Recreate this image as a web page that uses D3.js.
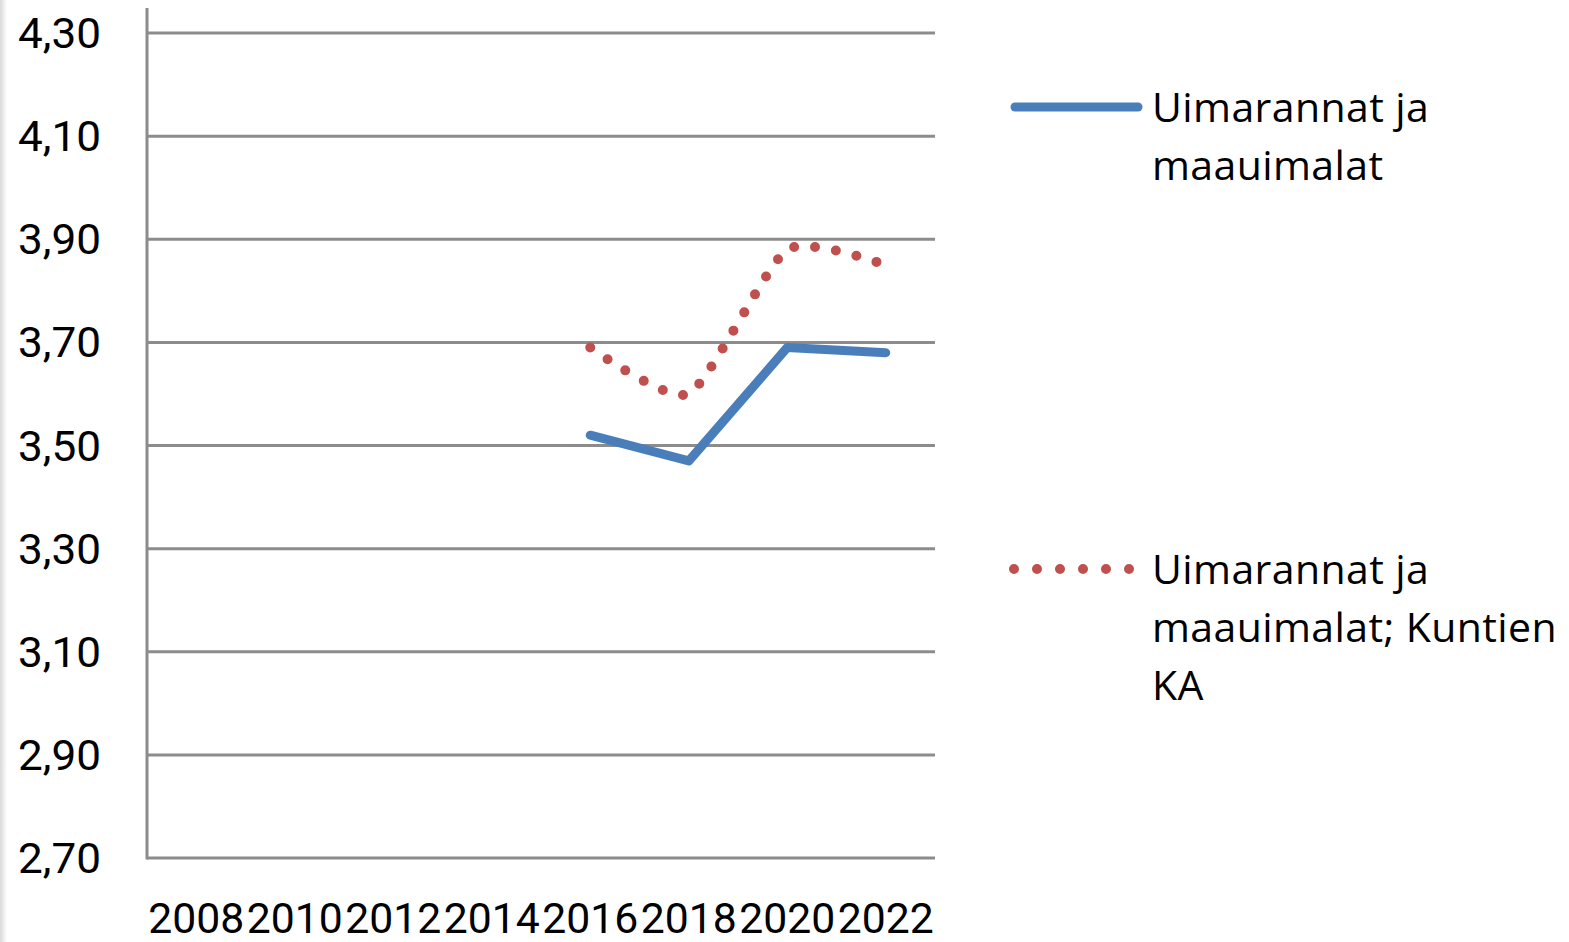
<!DOCTYPE html>
<html>
<head>
<meta charset="utf-8">
<script src="https://cdn.jsdelivr.net/npm/d3@7"></script>
<style>
  body { margin: 0; background: #fff; }
  svg { display: block; }
</style>
</head>
<body>
<div id="viz-container"></div>
<script>
// data
let years = ["2008", "2010", "2012", "2014", "2016", "2018", "2020", "2022"];
let uimarannat = [null, null, null, null, 3.52, 3.47, 3.69, 3.68];
let kuntienKA = [null, null, null, null, 3.69, 3.60, 3.88, 3.85];
let yTicks = [2.7, 2.9, 3.1, 3.3, 3.5, 3.7, 3.9, 4.1, 4.3];
let seriesNames = [["Uimarannat ja", "maauimalat"], ["Uimarannat ja", "maauimalat; Kuntien", "KA"]];

let W = 1569, H = 942;
let plotLeft = 147, plotRight = 935, plotTop = 33, plotBottom = 858;

let viz = d3.select("#viz-container")
  .append("svg")
    .attr("width", W)
    .attr("height", H)
  ;

// faint shadow strip on the left edge
let grad = viz.append("defs").append("linearGradient").attr("id", "edge");
grad.append("stop").attr("offset", "0%").attr("stop-color", "#d9d9d9");
grad.append("stop").attr("offset", "100%").attr("stop-color", "#ffffff");
viz.append("rect").attr("x", 0).attr("y", 0).attr("width", 7).attr("height", H).attr("fill", "url(#edge)");

let x = d3.scaleBand().domain(years).range([plotLeft, plotRight]);
let y = d3.scaleLinear().domain([2.7, 4.3]).range([plotBottom, plotTop]);

function cx(d, i){ return x(years[i]) + x.bandwidth() / 2; }

// gridlines
viz.append("g")
  .selectAll("line").data(yTicks).enter()
  .append("line")
    .attr("x1", plotLeft)
    .attr("x2", plotRight)
    .attr("y1", d => y(d))
    .attr("y2", d => y(d))
    .style("stroke", "#8c8c8c")
    .style("stroke-width", 3)
  ;

// y axis line
viz.append("line")
  .attr("x1", plotLeft).attr("x2", plotLeft)
  .attr("y1", 8).attr("y2", plotBottom + 1.5)
  .style("stroke", "#8c8c8c")
  .style("stroke-width", 3);

// y labels
viz.append("g")
  .selectAll("text").data(yTicks).enter()
  .append("text")
    .attr("x", 101)
    .attr("y", d => y(d))
    .attr("dy", "0.35em")
    .attr("text-anchor", "end")
    .attr("textLength", 83)
    .attr("lengthAdjust", "spacingAndGlyphs")
    .style("font-family", "Liberation Sans Narrow, Roboto, sans-serif")
    .style("font-size", "43px")
    .style("fill", "#000")
    .text(d => d3.format(".2f")(d).replace(".", ","))
  ;

// x labels
viz.append("g")
  .selectAll("text").data(years).enter()
  .append("text")
    .attr("x", (d, i) => cx(d, i))
    .attr("y", 933)
    .attr("text-anchor", "middle")
    .attr("textLength", 96)
    .attr("lengthAdjust", "spacingAndGlyphs")
    .style("font-family", "Liberation Sans Narrow, Roboto, sans-serif")
    .style("font-size", "42px")
    .style("fill", "#000")
    .text(d => d)
  ;

// lines
let blueLine = d3.line()
  .defined(d => d != null)
  .x(cx)
  .y(d => y(d));

let redLine = d3.line()
  .defined(d => d != null)
  .x(cx)
  .y(d => y(d))
  .curve(d3.curveCardinal.tension(0.4));

viz.append("path")
  .attr("d", blueLine(uimarannat))
  .style("fill", "none")
  .style("stroke", "#4a7ebb")
  .style("stroke-width", 9)
  .style("stroke-linecap", "round")
  .style("stroke-linejoin", "round");

viz.append("path")
  .attr("d", redLine(kuntienKA))
  .style("fill", "none")
  .style("stroke", "#c0504d")
  .style("stroke-width", 10)
  .style("stroke-linecap", "round")
  .style("stroke-dasharray", "0 21");

// legend
let legendTop = [107, 569];
let legendColors = ["#4a7ebb", "#c0504d"];

viz.append("line")
  .attr("x1", 1015).attr("x2", 1138)
  .attr("y1", legendTop[0]).attr("y2", legendTop[0])
  .style("stroke", legendColors[0])
  .style("stroke-width", 9)
  .style("stroke-linecap", "round");

viz.append("line")
  .attr("x1", 1014).attr("x2", 1130)
  .attr("y1", legendTop[1]).attr("y2", legendTop[1])
  .style("stroke", legendColors[1])
  .style("stroke-width", 10)
  .style("stroke-linecap", "round")
  .style("stroke-dasharray", "0 23");

seriesNames.forEach(function(lines, k){
  viz.append("g")
    .selectAll("text").data(lines).enter()
    .append("text")
      .attr("x", 1152)
      .attr("y", (d, i) => legendTop[k] + 15 + i * 58)
      .style("font-family", "Open Sans, sans-serif")
      .style("font-size", "41px")
      .style("letter-spacing", "0.4px")
      .style("fill", "#000")
      .text(d => d)
    ;
});
</script>
</body>
</html>
